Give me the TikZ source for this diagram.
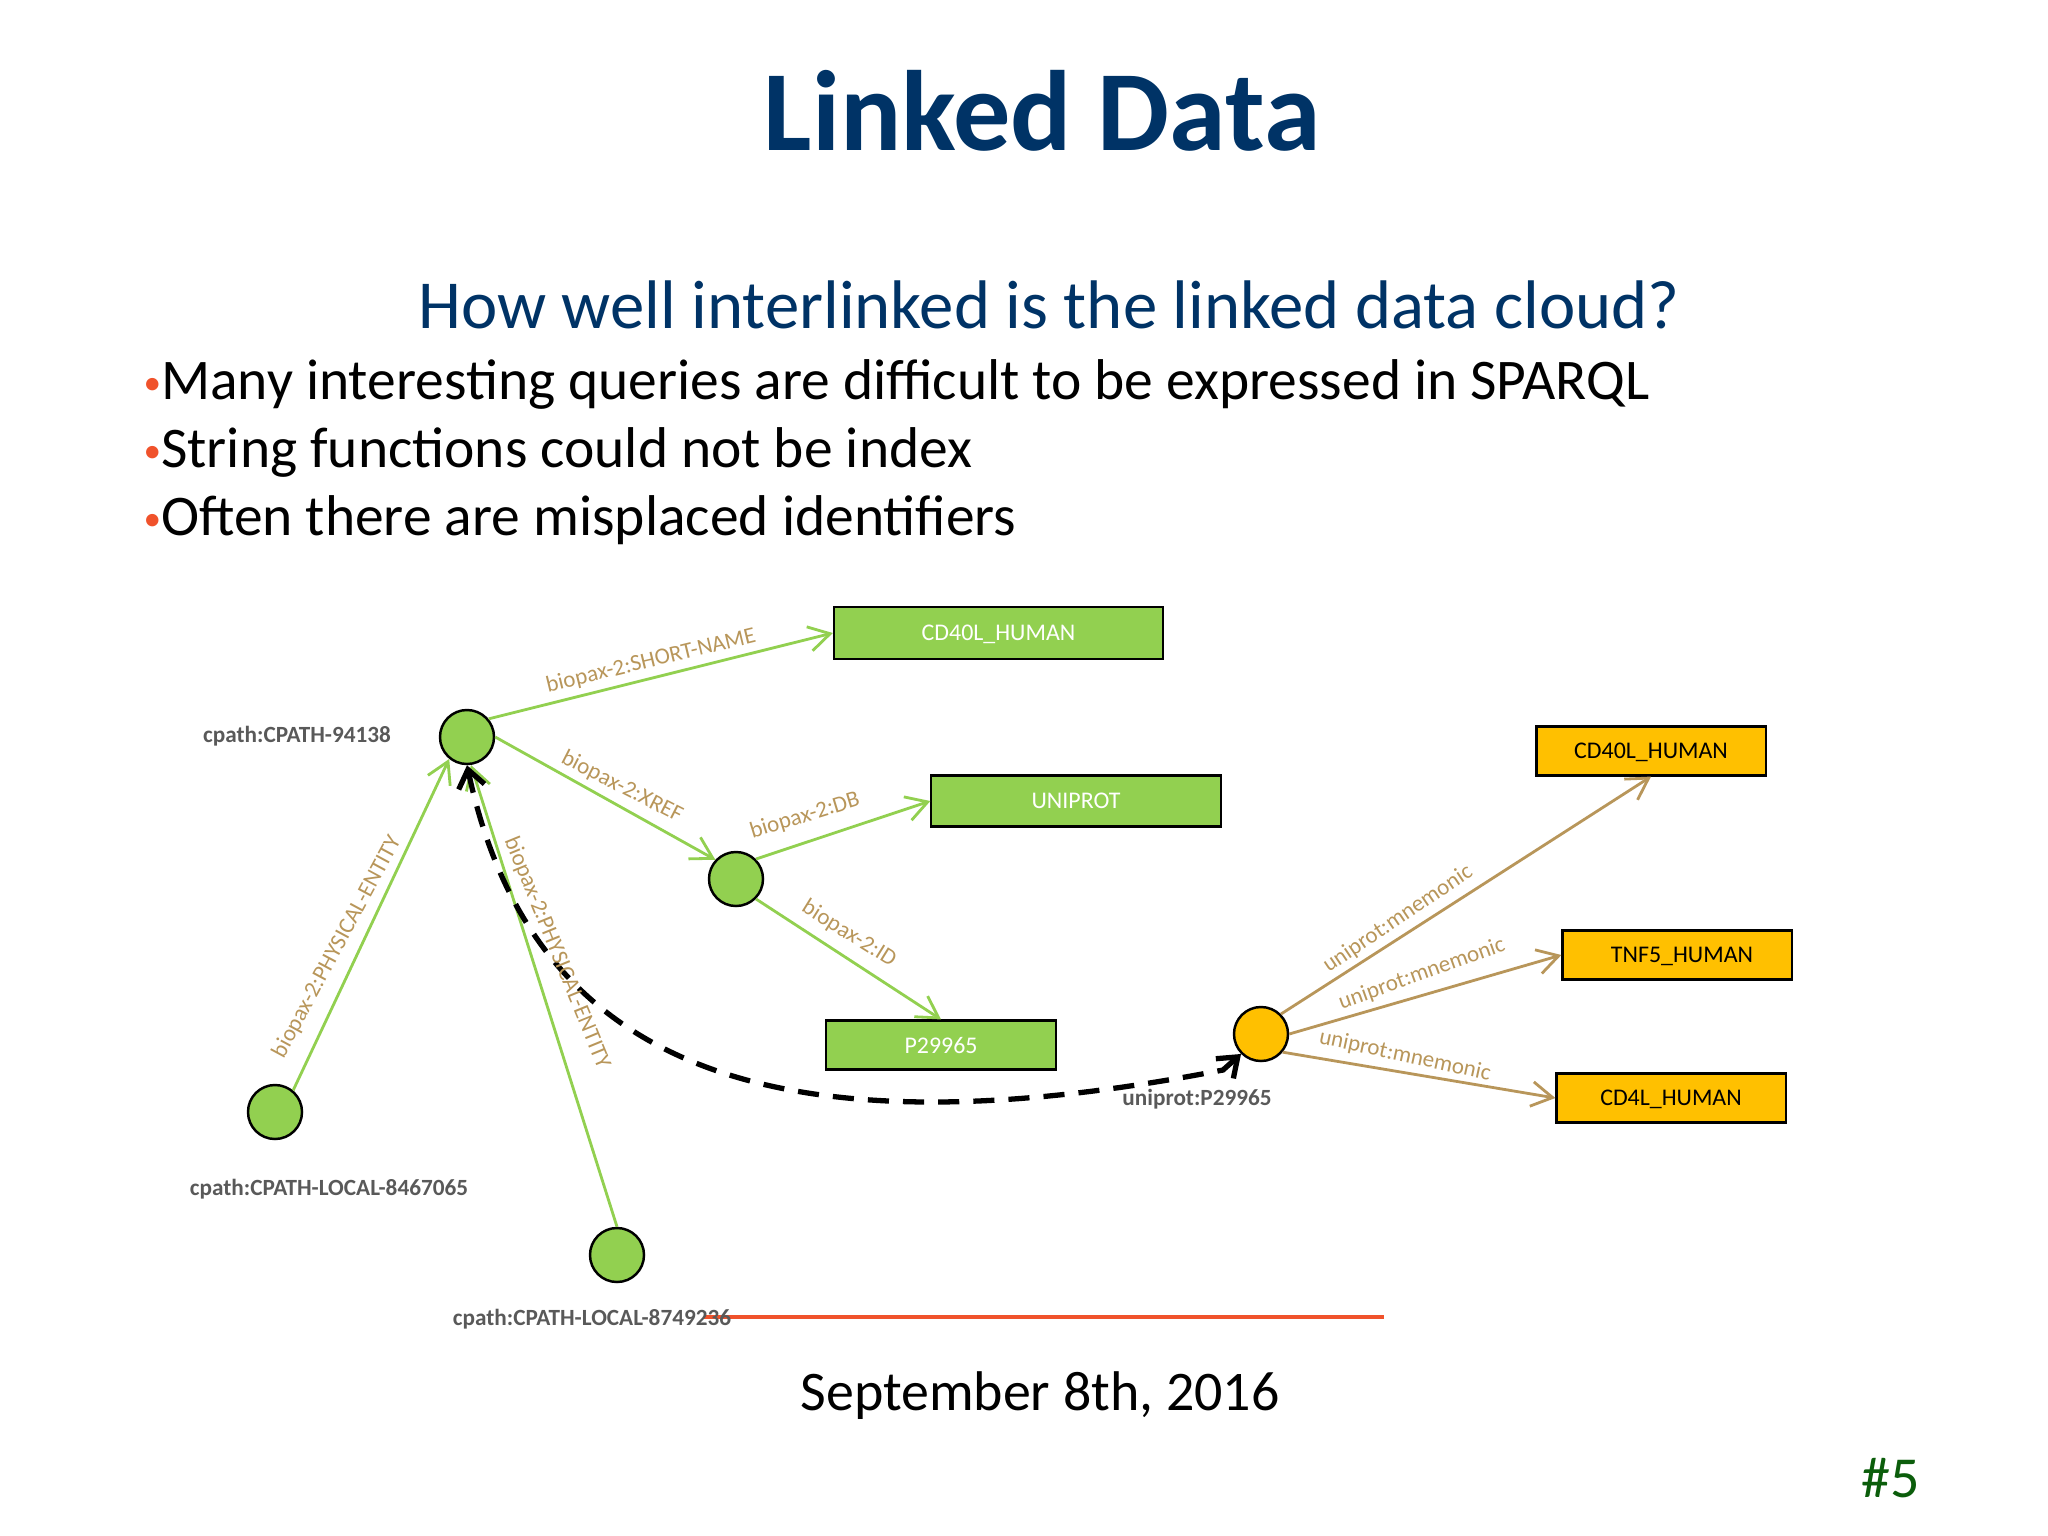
\documentclass[tikz,border=0pt]{standalone}
\usepackage{fontspec}
\setmainfont{Carlito}
\usetikzlibrary{arrows.meta}
\definecolor{titleblue}{HTML}{003366}
\definecolor{bulletred}{HTML}{F0522B}
\definecolor{lime}{HTML}{92D050}
\definecolor{amber}{HTML}{FFC000}
\definecolor{tan}{HTML}{B8965A}
\definecolor{slate}{HTML}{595959}
\definecolor{pagegreen}{HTML}{0B5D0B}
\def\bulletmark{\textcolor{bulletred}{\fontsize{10pt}{10pt}\selectfont\raisebox{1.3pt}{•}}}
\tikzset{
	dot/.style={circle, draw=black, line width=0.7pt, minimum size=0.54cm, inner sep=0pt},
	box/.style={draw=black, line width=0.6pt, inner sep=0pt, font=\fontsize{6.8pt}{8pt}\selectfont},
	greenbox/.style={box, fill=lime, text=white},
	amberbox/.style={box, fill=amber, text=black},
	greenedge/.style={lime, line width=0.8pt, -{Straight Barb[length=6pt,width=7pt]}},
	tanedge/.style={tan, line width=0.8pt, -{Straight Barb[length=6pt,width=7pt]}},
	edgelabel/.style={text=tan, inner sep=0pt, font=\fontsize{6.55pt}{8pt}\selectfont},
	idlabel/.style={text=slate, inner sep=0pt, font=\fontsize{6.6pt}{8pt}\selectfont\bfseries},
	bulletline/.style={anchor=base west, inner sep=0pt, font=\fontsize{16.35pt}{19pt}\selectfont}
}

\begin{document}
\begin{tikzpicture}[x=0.01cm, y=-0.01cm]
		%%%%% START %%%%%
		\useasboundingbox (0, 0) rectangle (2048, 1536);
		
		\node[anchor=base, inner sep=0pt, text=titleblue, font=\fontsize{32.5pt}{36pt}\selectfont\bfseries] (title) at (1042, 150) {Linked Data};
		\node[anchor=base, inner sep=0pt, text=titleblue, font=\fontsize{19.55pt}{22pt}\selectfont] (question) at (1049, 328) {How well interlinked is the linked data cloud?};
		
		\node[bulletline] (lineA) at (143, 399) {\bulletmark Many interesting queries are difficult to be expressed in SPARQL};
		\node[bulletline] (lineB) at (143, 467) {\bulletmark String functions could not be index};
		\node[bulletline] (lineC) at (143, 535) {\bulletmark Often there are misplaced identifiers};
		
		\node[dot, fill=lime] (top) at (467, 737) {};
		\node[dot, fill=lime] (mid) at (736, 879) {};
		\node[dot, fill=lime] (left) at (275, 1112) {};
		\node[dot, fill=lime] (low) at (617, 1255) {};
		\node[dot, fill=amber] (hub) at (1261, 1034) {};
		
		\node[greenbox, minimum width=3.29cm, minimum height=0.52cm, text depth=0pt] (shortname) at (998.5, 633) {CD40L\_HUMAN};
		\node[greenbox, minimum width=2.89cm, minimum height=0.51cm] (uniprot) at (1076, 801) {UNIPROT};
		\node[greenbox, minimum width=2.30cm, minimum height=0.49cm] (accession) at (941, 1045) {P29965};
		\node[amberbox, minimum width=2.29cm, minimum height=0.49cm, text depth=0pt] (mnemA) at (1651, 751) {CD40L\_HUMAN};
		\node[amberbox, minimum width=2.29cm, minimum height=0.49cm, text depth=0pt] (mnemB) at (1677, 955) {\hspace*{0.1cm}TNF5\_HUMAN};
		\node[amberbox, minimum width=2.29cm, minimum height=0.49cm, text depth=0pt] (mnemC) at (1671, 1098) {CD4L\_HUMAN};
		
		\draw[greenedge] (top.40) -- (shortname.west);
		\draw[greenedge] (top.east) -- (mid.137);
		\draw[greenedge] (mid.45) -- (uniprot.west);
		\draw[greenedge] (mid.-45) -- (accession.north);
		\draw[greenedge] (left.50) -- (top.231);
		\draw[greenedge] (low.north) -- (top.-82);
		\draw[tanedge] (hub.45) -- (mnemA.south);
		\draw[tanedge] (hub.east) -- (mnemB.west);
		\draw[tanedge] (hub.-40) -- (mnemC.west);
		
		\coordinate (kink) at (1223, 1070);
		\draw[black, line width=1.5pt, dash pattern=on 6pt off 4pt, {Straight Barb[length=5pt,width=7.5pt]}-{Straight Barb[length=5pt,width=7.5pt]}] (top.south) .. controls (530, 1060) and (760, 1160) .. (kink) -- (hub.225);
		
		\node[edgelabel, rotate=13.6] (labelA) at (651, 661) {biopax-2:SHORT-NAME};
		\node[edgelabel, rotate=-27] (labelB) at (622, 787) {biopax-2:XREF};
		\node[edgelabel, rotate=17] (labelC) at (805, 816) {biopax-2:DB};
		\node[edgelabel, rotate=-32] (labelD) at (849, 934) {biopax-2:ID};
		\node[edgelabel, rotate=61.7] (labelE) at (337, 947) {biopax-2:PHYSICAL-ENTITY};
		\node[edgelabel, rotate=-67.8] (labelF) at (557, 953) {biopax-2:PHYSICAL-ENTITY};
		\node[edgelabel, rotate=34] (labelG) at (1398, 919) {uniprot:mnemonic};
		\node[edgelabel, rotate=19.7] (labelH) at (1422, 974) {uniprot:mnemonic};
		\node[edgelabel, rotate=-12.3] (labelI) at (1405, 1056) {uniprot:mnemonic};
		
		\coordinate (ruleA) at (704, 1317);
		\coordinate (ruleB) at (1384, 1317);
		\draw[bulletred, line width=1.1pt] (ruleA) -- (ruleB);
		
		\node[idlabel] (idA) at (297, 736) {cpath:CPATH-94138};
		\node[idlabel] (idB) at (329, 1189) {cpath:CPATH-LOCAL-8467065};
		\node[idlabel] (idC) at (592, 1319) {cpath:CPATH-LOCAL-8749236};
		\node[idlabel] (idD) at (1197, 1099) {uniprot:P29965};
		
		\node[anchor=base, inner sep=0pt, font=\fontsize{15.9pt}{18pt}\selectfont] (date) at (1040, 1410) {September 8th, 2016};
		\node[anchor=base, inner sep=0pt, text=pagegreen, font=\fontsize{16.5pt}{19pt}\selectfont] (pagenum) at (1891, 1497) {\#5};
		
		%%%%% END %%%%%
	\end{tikzpicture}
\end{document}
